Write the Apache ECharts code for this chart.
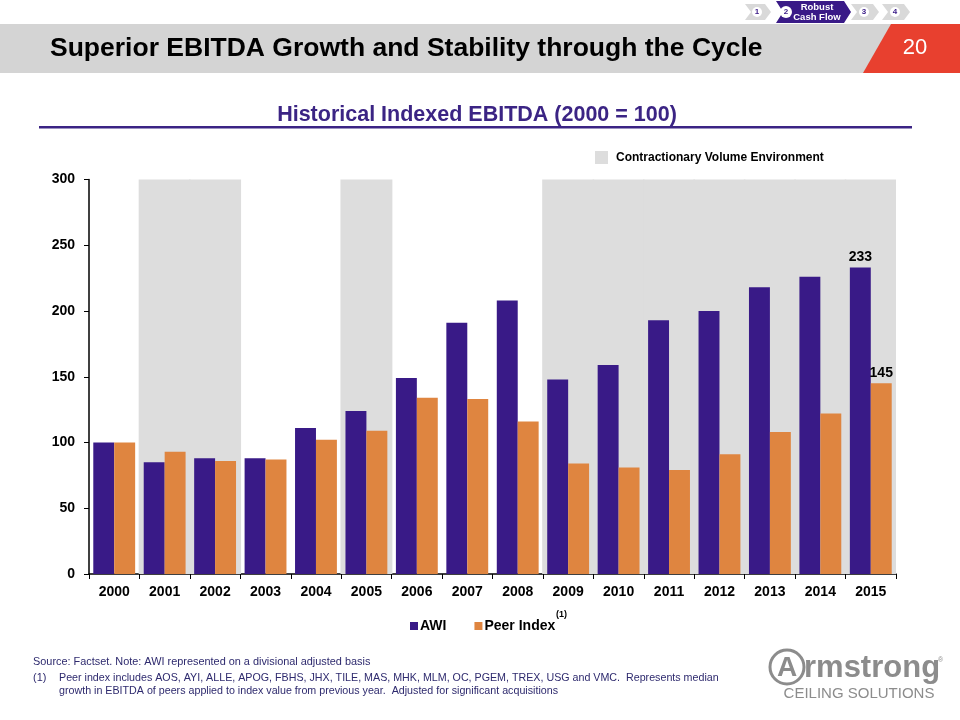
<!DOCTYPE html>
<html>
<head>
<meta charset="utf-8">
<script src="https://cdn.jsdelivr.net/npm/echarts@6/dist/echarts.min.js"></script>
<style>
html,body{margin:0;padding:0;background:#fff;}
#chart{width:960px;height:720px;}
</style>
</head>
<body>
<div id="chart"></div>
<script>
// ---- data ----
var years = ['2000','2001','2002','2003','2004','2005','2006','2007','2008','2009','2010','2011','2012','2013','2014','2015'];
var awi = [100, 85, 88, 88, 111, 124, 149, 191, 208, 148, 159, 193, 200, 218, 226, 233];
var peer = [100, 93, 86, 87, 102, 109, 134, 133, 116, 84, 81, 79, 91, 108, 122, 145];
var contraction = [0, 1, 1, 0, 0, 1, 0, 0, 0, 1, 1, 1, 1, 1, 1, 1];
var yTicks = [0, 50, 100, 150, 200, 250, 300];
var labelledYear = '2015';

var FONT = 'Liberation Sans, Arial, sans-serif';
var PURPLE = '#391a87';
var ORANGE = '#df8540';
var SHADE = '#dddddd';
var NAVY = '#2e2a6e';

var chart = echarts.init(document.getElementById('chart'), null, {renderer: 'canvas'});

var lastIdx = years.indexOf(labelledYear);
function withLabel(arr) {
  return arr.map(function (v, i) {
    if (i === lastIdx) {
      return {value: v, label: {show: true, position: 'top', distance: 3, color: '#000', fontWeight: 'bold', fontSize: 14, fontFamily: FONT}};
    }
    return v;
  });
}
var shadeData = contraction.map(function (c) { return c ? yTicks[yTicks.length - 1] : 0; });

function chevron(x, y, w, h, tip, color) {
  return {
    type: 'polygon',
    shape: {points: [[x, y], [x + w, y], [x + w + tip, y + h / 2], [x + w, y + h], [x, y + h], [x + tip, y + h / 2]]},
    style: {fill: color}
  };
}
function numCircle(cx, cy, r, txt, bg, fg) {
  return [
    {type: 'circle', shape: {cx: cx, cy: cy, r: r}, style: {fill: bg}},
    {type: 'text', x: cx, y: cy, style: {text: txt, fill: fg, font: 'bold 8px ' + FONT, textAlign: 'center', textVerticalAlign: 'middle'}}
  ];
}

var graphics = [
  // header band
  {type: 'rect', shape: {x: 0, y: 24, width: 960, height: 49}, style: {fill: '#d4d4d4'}},
  {type: 'polygon', shape: {points: [[891, 24], [960, 24], [960, 73], [863, 73]]}, style: {fill: '#e8402f'}},
  {type: 'text', x: 50, y: 49, style: {text: 'Superior EBITDA Growth and Stability through the Cycle', fill: '#000', font: 'bold 26.5px ' + FONT, textVerticalAlign: 'middle'}},
  {type: 'text', x: 915, y: 48, style: {text: '20', fill: '#fff', font: '22px ' + FONT, textAlign: 'center', textVerticalAlign: 'middle'}},
  // nav chevrons
  chevron(745, 4, 20, 16, 6, '#d9d9d9'),
  chevron(776, 1, 68, 22, 7, PURPLE),
  chevron(851, 4, 22, 16, 6, '#d9d9d9'),
  chevron(882, 4, 22, 16, 6, '#d9d9d9'),
  {type: 'text', x: 817, y: 7, style: {text: 'Robust', fill: '#fff', font: 'bold 9.5px ' + FONT, textAlign: 'center', textVerticalAlign: 'middle'}},
  {type: 'text', x: 817, y: 17, style: {text: 'Cash Flow', fill: '#fff', font: 'bold 9.5px ' + FONT, textAlign: 'center', textVerticalAlign: 'middle'}},
  // subtitle
  {type: 'text', x: 477, y: 115, style: {text: 'Historical Indexed EBITDA (2000 = 100)', fill: '#3b2484', font: 'bold 21.5px ' + FONT, textAlign: 'center', textVerticalAlign: 'middle'}},
  {type: 'rect', shape: {x: 39, y: 126, width: 873, height: 2.5}, style: {fill: '#3b2484'}},
  // superscript (1)
  {type: 'text', x: 556, y: 615, style: {text: '(1)', fill: '#000', font: 'bold 9px ' + FONT, textVerticalAlign: 'middle'}},
  // footnotes
  {type: 'text', x: 33, y: 662, style: {text: 'Source: Factset. Note: AWI represented on a divisional adjusted basis', fill: NAVY, font: '10.9px ' + FONT, textVerticalAlign: 'middle'}},
  {type: 'text', x: 33, y: 678, style: {text: '(1)', fill: NAVY, font: '10.9px ' + FONT, textVerticalAlign: 'middle'}},
  {type: 'text', x: 59, y: 678, style: {text: 'Peer index includes AOS, AYI, ALLE, APOG, FBHS, JHX, TILE, MAS, MHK, MLM, OC, PGEM, TREX, USG and VMC.  Represents median', fill: NAVY, font: '10.7px ' + FONT, textVerticalAlign: 'middle'}},
  {type: 'text', x: 59, y: 691, style: {text: 'growth in EBITDA of peers applied to index value from previous year.  Adjusted for significant acquisitions', fill: NAVY, font: '10.7px ' + FONT, textVerticalAlign: 'middle'}},
  // logo
  {type: 'circle', shape: {cx: 787, cy: 667, r: 17}, style: {fill: 'none', stroke: '#8c8c8c', lineWidth: 3}},
  {type: 'text', x: 787, y: 668, style: {text: 'A', fill: '#8c8c8c', font: 'bold 28px ' + FONT, textAlign: 'center', textVerticalAlign: 'middle'}},
  {type: 'text', x: 804, y: 668, style: {text: 'rmstrong', fill: '#8c8c8c', font: 'bold 31px ' + FONT, textVerticalAlign: 'middle'}},
  {type: 'text', x: 938, y: 660, style: {text: '®', fill: '#8c8c8c', font: '7px ' + FONT, textVerticalAlign: 'middle'}},
  {type: 'text', x: 859, y: 694, style: {text: 'CEILING SOLUTIONS', fill: '#8c8c8c', font: '15px ' + FONT, textAlign: 'center', textVerticalAlign: 'middle'}}
];
graphics = graphics.concat(numCircle(757, 12, 5, '1', '#fff', PURPLE));
graphics = graphics.concat(numCircle(786, 12, 6, '2', '#fff', PURPLE));
graphics = graphics.concat(numCircle(864, 12, 5, '3', '#fff', PURPLE));
graphics = graphics.concat(numCircle(895, 12, 5, '4', '#fff', PURPLE));

var option = {
  animation: false,
  backgroundColor: '#fff',
  textStyle: {fontFamily: FONT},
  grid: {left: 89, right: 64, top: 179.5, bottom: 146, containLabel: false},
  legend: [{
    data: ['AWI', 'Peer Index'],
    left: 405, top: 614,
    icon: 'rect', itemWidth: 8, itemHeight: 8, itemGap: 28,
    textStyle: {fontFamily: FONT, fontWeight: 'bold', fontSize: 14, color: '#000', padding: [0, 0, 0, -3]},
    selectedMode: false
  }, {
    data: ['Contractionary Volume Environment'],
    left: 590, top: 146,
    icon: 'rect', itemWidth: 13, itemHeight: 13,
    textStyle: {fontFamily: FONT, fontWeight: 'bold', fontSize: 12, color: '#000', padding: [0, 0, 0, 3]},
    selectedMode: false
  }],
  xAxis: [{
    type: 'category', data: years,
    axisLine: {lineStyle: {color: '#000', width: 1.5}},
    axisTick: {show: true, length: 5, lineStyle: {color: '#000'}},
    axisLabel: {color: '#000', fontWeight: 'bold', fontSize: 14, fontFamily: FONT, margin: 11}
  }, {
    type: 'category', data: years, show: false
  }],
  yAxis: [{
    type: 'value', min: 0, max: 300, interval: 50,
    axisLine: {show: true, lineStyle: {color: '#000', width: 1.5}},
    axisTick: {show: true, length: 5, lineStyle: {color: '#000'}},
    splitLine: {show: false},
    axisLabel: {color: '#000', fontWeight: 'bold', fontSize: 14, fontFamily: FONT, margin: 14}
  }],
  series: [{
    name: 'Contractionary Volume Environment', type: 'bar', xAxisIndex: 1,
    data: shadeData, barWidth: '103%',
    itemStyle: {color: SHADE}, z: 0, silent: true
  }, {
    name: 'AWI', type: 'bar', data: withLabel(awi),
    itemStyle: {color: PURPLE}, barGap: '0%', barCategoryGap: '17%', z: 2
  }, {
    name: 'Peer Index', type: 'bar', data: withLabel(peer),
    itemStyle: {color: ORANGE}, barGap: '0%', barCategoryGap: '17%', z: 2
  }],
  graphic: graphics
};
chart.setOption(option);
</script>
</body>
</html>
